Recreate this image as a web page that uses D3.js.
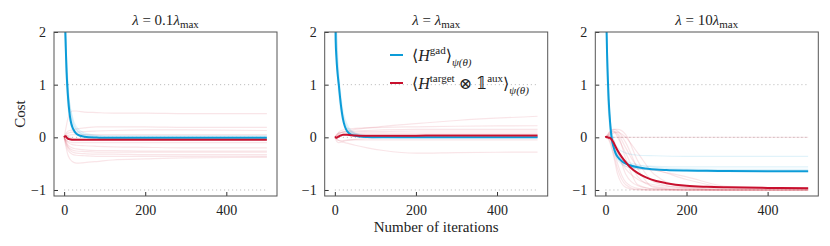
<!DOCTYPE html>
<html>
<head>
<meta charset="utf-8">
<script src="https://cdn.jsdelivr.net/npm/d3@7"></script>
<style>
  body { margin: 0; background: #fff; }
  svg, text { font-family: "Liberation Serif", "DejaVu Serif", serif; fill: #222; }
</style>
</head>
<body>
<svg id="chart" width="830" height="246"></svg>
<script>
// iteration grids
const iters = [0, 2, 4, 6, 8, 10, 13, 16, 20, 25, 30, 40, 50, 60, 80, 100, 125, 150, 200, 250, 300, 400, 500];
const runIters = [0, 5, 10, 20, 30, 50, 80, 120, 200, 300, 500];

const xTicks = [0, 200, 400];
const yTicks = [-1, 0, 1, 2];
const refLevels = [-1, 0, 1];
const lambdaFactors = ["0.1", "", "10"];

// lambda = 0.1 lambda_max
const p1Gad = [3.5, 2.3, 1.7, 1.25, 0.95, 0.72, 0.48, 0.32, 0.2, 0.12, 0.07, 0.03, 0.01, 0.0, -0.005, -0.01, -0.01, -0.01, -0.01, -0.01, -0.01, -0.01, -0.01];
const p1Target = [0, 0.02, 0.02, 0.0, -0.02, -0.03, -0.035, -0.04, -0.045, -0.045, -0.045, -0.045, -0.045, -0.045, -0.045, -0.045, -0.045, -0.045, -0.045, -0.045, -0.045, -0.045, -0.045];
const p1GadRuns = [
  [3.0, 1.7, 0.95, 0.35, 0.16, 0.05, 0.02, 0.0, 0.0, 0.0, 0.0],
  [3.6, 1.2, 0.55, 0.15, 0.06, 0.02, 0.0, -0.01, -0.02, -0.02, -0.02],
  [3.2, 1.5, 0.8, 0.3, 0.14, 0.05, 0.03, 0.02, 0.02, 0.02, 0.02],
  [3.4, 1.4, 0.7, 0.22, 0.1, 0.03, 0.0, -0.02, -0.04, -0.05, -0.05],
  [3.1, 1.6, 0.9, 0.4, 0.2, 0.08, 0.04, 0.03, 0.03, 0.03, 0.03]
];
const p1TargetRuns = [
  [0, 0.2, 0.38, 0.5, 0.5, 0.48, 0.47, 0.46, 0.46, 0.45, 0.45],
  [0, 0.08, 0.12, 0.14, 0.16, 0.18, 0.2, 0.2, 0.2, 0.19, 0.19],
  [0, 0.05, 0.08, 0.1, 0.1, 0.11, 0.12, 0.13, 0.14, 0.14, 0.13],
  [0, 0.02, 0.04, 0.05, 0.05, 0.05, 0.05, 0.05, 0.05, 0.05, 0.05],
  [0, -0.05, -0.08, -0.1, -0.1, -0.1, -0.1, -0.1, -0.1, -0.1, -0.1],
  [0, -0.06, -0.1, -0.14, -0.15, -0.16, -0.17, -0.18, -0.19, -0.2, -0.2],
  [0, -0.1, -0.18, -0.24, -0.26, -0.27, -0.28, -0.28, -0.28, -0.28, -0.28],
  [0, -0.12, -0.2, -0.28, -0.3, -0.31, -0.32, -0.32, -0.33, -0.33, -0.33],
  [0, -0.2, -0.35, -0.46, -0.49, -0.48, -0.46, -0.43, -0.41, -0.39, -0.38],
  [0, -0.15, -0.25, -0.32, -0.34, -0.35, -0.36, -0.36, -0.36, -0.36, -0.36],
  [0, -0.08, -0.15, -0.2, -0.22, -0.24, -0.25, -0.25, -0.26, -0.26, -0.26],
  [0, 0.03, 0.02, -0.02, -0.03, -0.04, -0.04, -0.04, -0.04, -0.04, -0.04]
];

// lambda = lambda_max
const p2Gad = [3.2, 1.85, 1.5, 1.28, 1.12, 0.98, 0.75, 0.55, 0.35, 0.2, 0.12, 0.05, 0.03, 0.015, 0.005, 0.0, 0.0, 0.0, 0.0, 0.0, 0.0, 0.0, 0.0];
const p2Target = [0, 0.0, -0.01, 0.0, 0.01, 0.02, 0.03, 0.04, 0.05, 0.05, 0.05, 0.04, 0.035, 0.03, 0.03, 0.03, 0.03, 0.03, 0.03, 0.035, 0.035, 0.035, 0.035];
const p2GadRuns = [
  [3.0, 1.9, 1.2, 0.5, 0.25, 0.08, 0.03, 0.01, 0.0, 0.0, 0.0],
  [3.5, 1.4, 0.8, 0.3, 0.14, 0.05, 0.02, 0.01, 0.0, 0.0, 0.0],
  [3.2, 1.7, 1.05, 0.42, 0.2, 0.07, 0.03, 0.02, 0.02, 0.02, 0.02],
  [3.3, 1.55, 0.95, 0.38, 0.18, 0.06, 0.02, 0.0, -0.01, -0.01, -0.01]
];
const p2TargetRuns = [
  [0, 0.03, 0.06, 0.1, 0.12, 0.15, 0.18, 0.21, 0.26, 0.32, 0.4],
  [0, 0.05, 0.1, 0.14, 0.16, 0.17, 0.18, 0.19, 0.2, 0.21, 0.22],
  [0, 0.04, 0.08, 0.1, 0.11, 0.12, 0.13, 0.14, 0.15, 0.15, 0.15],
  [0, 0.02, 0.04, 0.06, 0.07, 0.07, 0.08, 0.08, 0.08, 0.08, 0.08],
  [0, -0.03, -0.06, -0.09, -0.11, -0.15, -0.2, -0.25, -0.3, -0.29, -0.28],
  [0, -0.04, -0.06, -0.06, -0.05, -0.05, -0.05, -0.05, -0.05, -0.05, -0.05],
  [0, 0.06, 0.08, 0.1, 0.1, 0.1, 0.11, 0.11, 0.12, 0.12, 0.12],
  [0, -0.08, -0.1, -0.08, -0.06, -0.04, -0.02, 0.0, 0.02, 0.03, 0.03]
];

// lambda = 10 lambda_max
const p3Gad = [3.4, 2.3, 1.6, 1.1, 0.72, 0.45, 0.15, -0.05, -0.18, -0.3, -0.37, -0.45, -0.5, -0.53, -0.57, -0.59, -0.61, -0.62, -0.63, -0.635, -0.64, -0.645, -0.645];
const p3Target = [0, 0.01, 0.0, 0.0, -0.01, -0.01, -0.02, -0.05, -0.1, -0.18, -0.25, -0.37, -0.47, -0.56, -0.68, -0.76, -0.83, -0.87, -0.92, -0.94, -0.95, -0.96, -0.965];
const p3GadRuns = [
  [3.0, 1.3, 0.5, -0.05, -0.2, -0.3, -0.34, -0.35, -0.36, -0.36, -0.36],
  [3.4, 1.0, 0.3, -0.2, -0.38, -0.5, -0.54, -0.55, -0.56, -0.56, -0.56],
  [3.2, 1.2, 0.4, -0.1, -0.3, -0.45, -0.52, -0.57, -0.6, -0.61, -0.61],
  [3.5, 0.9, 0.25, -0.25, -0.42, -0.55, -0.6, -0.62, -0.64, -0.65, -0.65]
];
const p3TargetRuns = [
  [0, 0, 0, 0, 0, 0, 0, 0, 0, 0, 0],
  [0, 0.02, 0.05, 0.1, 0.05, -0.4, -0.9, -0.98, -1.0, -1.0, -1.0],
  [0, 0.03, 0.08, 0.15, 0.12, -0.1, -0.6, -0.95, -1.0, -1.0, -1.0],
  [0, -0.02, -0.08, -0.35, -0.7, -0.95, -1.0, -1.0, -1.0, -1.0, -1.0],
  [0, 0.0, -0.02, -0.2, -0.5, -0.85, -0.97, -1.0, -1.0, -1.0, -1.0],
  [0, 0.02, 0.04, 0.08, 0.1, 0.0, -0.3, -0.7, -0.95, -0.98, -0.98],
  [0, 0.01, 0.0, -0.1, -0.3, -0.55, -0.6, -0.62, -0.8, -0.95, -0.97],
  [0, 0.0, -0.03, -0.15, -0.35, -0.6, -0.8, -0.9, -0.95, -0.96, -0.96],
  [0, 0.05, 0.1, 0.12, 0.0, -0.3, -0.75, -0.93, -0.98, -1.0, -1.0],
  [0, 0.04, 0.1, 0.15, 0.15, 0.05, -0.45, -0.85, -0.97, -1.0, -1.0],
  [0, -0.01, -0.05, -0.3, -0.6, -0.9, -0.99, -1.0, -1.0, -1.0, -1.0],
  [0, 0.02, 0.06, 0.12, 0.08, -0.2, -0.55, -0.62, -0.75, -0.93, -0.97],
  [0, 0.0, 0.02, -0.05, -0.25, -0.7, -0.92, -0.98, -1.0, -1.0, -1.0]
];

const panels = [
  { gad: p1Gad, target: p1Target, gadRuns: p1GadRuns, targetRuns: p1TargetRuns },
  { gad: p2Gad, target: p2Target, gadRuns: p2GadRuns, targetRuns: p2TargetRuns },
  { gad: p3Gad, target: p3Target, gadRuns: p3GadRuns, targetRuns: p3TargetRuns }
];

const blue = "#0c9cd8";
const red = "#c8102e";
const serif = '"Liberation Serif", "DejaVu Serif", serif';

const svg = d3.select("#chart").attr("font-family", serif);
const panelLeft = [54, 324.7, 595.3];
const panelW = 223;
const plotTop = 32, plotBottom = 196;
const panelH = plotBottom - plotTop;

const x = d3.scaleLinear().domain([-25, 525]).range([0, panelW]);
const y = d3.scaleLinear().domain([-1.114, 2]).range([panelH, 0]);
const fmt = (d) => (d < 0 ? "\u2212" + Math.abs(d) : String(d));

const line = (xs) =>
  d3.line()
    .x((d, i) => x(xs[i]))
    .y((d) => y(d))
    .curve(d3.curveMonotoneX);

panels.forEach((p, i) => {
  const g = svg.append("g").attr("transform", `translate(${panelLeft[i]},${plotTop})`);

  svg.append("clipPath").attr("id", "clip" + i)
    .append("rect").attr("width", panelW).attr("height", panelH);

  // reference levels
  g.append("g").selectAll("line").data(refLevels).join("line")
    .attr("x1", x(0)).attr("x2", x(500))
    .attr("y1", (d) => y(d)).attr("y2", (d) => y(d))
    .attr("stroke", "#b5b5b5").attr("stroke-width", 1)
    .attr("stroke-dasharray", "1,3");

  const plot = g.append("g").attr("clip-path", `url(#clip${i})`);

  plot.selectAll(".trun").data(p.targetRuns).join("path")
    .attr("class", "trun")
    .attr("d", line(runIters))
    .attr("fill", "none").attr("stroke", red)
    .attr("stroke-opacity", 0.11).attr("stroke-width", 1.2);

  plot.selectAll(".grun").data(p.gadRuns).join("path")
    .attr("class", "grun")
    .attr("d", line(runIters))
    .attr("fill", "none").attr("stroke", blue)
    .attr("stroke-opacity", 0.12).attr("stroke-width", 1.2);

  plot.append("path").datum(p.gad)
    .attr("d", line(iters))
    .attr("fill", "none").attr("stroke", blue).attr("stroke-width", 2);

  plot.append("path").datum(p.target)
    .attr("d", line(iters))
    .attr("fill", "none").attr("stroke", red).attr("stroke-width", 2);

  // axes with inward ticks
  const xAxis = g.append("g").attr("transform", `translate(0,${panelH})`)
    .call(d3.axisBottom(x).tickValues(xTicks).tickSize(-4).tickPadding(9).tickSizeOuter(0));
  const yAxis = g.append("g")
    .call(d3.axisLeft(y).tickValues(yTicks).tickFormat(fmt).tickSize(-4).tickPadding(8).tickSizeOuter(0));
  [xAxis, yAxis].forEach((a) => {
    a.attr("font-family", serif).attr("font-size", 14);
    a.select(".domain").remove();
    a.selectAll("line").attr("stroke", "#333");
    a.selectAll("text").attr("fill", "#222");
  });

  g.append("rect").attr("width", panelW).attr("height", panelH)
    .attr("fill", "none").attr("stroke", "#555").attr("stroke-width", 1);

  // title
  const t = g.append("text").attr("x", panelW / 2).attr("y", -7)
    .attr("text-anchor", "middle").attr("font-size", 15);
  t.append("tspan").attr("font-style", "italic").text("\u03bb");
  t.append("tspan").text(" = " + lambdaFactors[i]);
  t.append("tspan").attr("font-style", "italic").text("\u03bb");
  t.append("tspan").attr("font-size", 11).attr("dy", 3).text("max");
});

// axis labels
svg.append("text").attr("transform", "translate(25,114) rotate(-90)")
  .attr("text-anchor", "middle").attr("font-size", 15).text("Cost");
svg.append("text").attr("x", panelLeft[1] + panelW / 2).attr("y", 232)
  .attr("text-anchor", "middle").attr("font-size", 15).text("Number of iterations");

// legend in middle panel
const legend = svg.append("g");
const legendRows = [
  { color: blue, y: 55, sup: "gad", extra: "" },
  { color: red, y: 83, sup: "target", extra: "aux" }
];
legendRows.forEach((r) => {
  legend.append("line").attr("x1", 390).attr("x2", 403)
    .attr("y1", r.y).attr("y2", r.y)
    .attr("stroke", r.color).attr("stroke-width", 2);
  const t = legend.append("text").attr("x", 412).attr("y", r.y + 6).attr("font-size", 16);
  t.append("tspan").text("\u27e8");
  t.append("tspan").attr("font-style", "italic").text("H");
  t.append("tspan").attr("font-size", 11).attr("dy", -7).text(r.sup);
  if (r.extra) {
    t.append("tspan").attr("dy", 7).text(" \u2297 \ud835\udfd9");
    t.append("tspan").attr("font-size", 11).attr("dy", -7).text(r.extra);
  }
  t.append("tspan").attr("dy", 7).text("\u27e9");
  t.append("tspan").attr("font-size", 11).attr("font-style", "italic").attr("dy", 5).text("\u03c8(\u03b8)");
});
</script>
</body>
</html>
